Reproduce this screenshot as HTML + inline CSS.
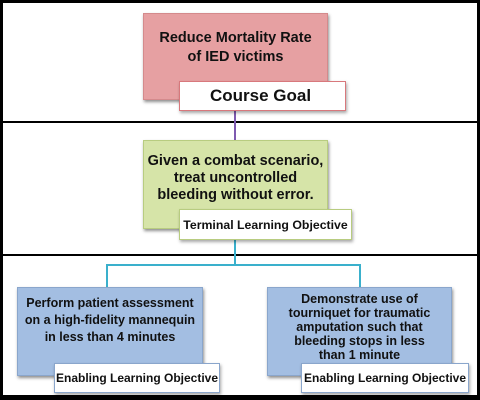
<!DOCTYPE html>
<html><head><style>
body{margin:0;width:480px;height:400px;background:#000;position:relative;overflow:hidden;font-family:"Liberation Sans",sans-serif;font-weight:bold;color:#111}
.band{position:absolute;left:3px;width:474px;background:#fff}
.box{position:absolute;display:flex;align-items:flex-start;justify-content:center;text-align:center;box-shadow:1px 2px 3px rgba(0,0,0,.45)}
.lbl{position:absolute;background:#fff;display:flex;align-items:center;justify-content:center;box-shadow:1px 2px 3px rgba(0,0,0,.35);white-space:nowrap}
.ln{position:absolute}
</style></head><body>
<div class="band" style="top:3px;height:118px"></div>
<div class="band" style="top:123px;height:131px"></div>
<div class="band" style="top:256px;height:139px"></div>

<div class="ln" style="left:234px;top:108px;width:2px;height:34px;background:#7e5ab0"></div>
<div class="ln" style="left:234px;top:238px;width:2px;height:28px;background:#3ab0cc"></div>
<div class="ln" style="left:106px;top:264px;width:255px;height:2px;background:#3ab0cc"></div>
<div class="ln" style="left:106px;top:264px;width:2px;height:24px;background:#3ab0cc"></div>
<div class="ln" style="left:359px;top:264px;width:2px;height:24px;background:#3ab0cc"></div>

<div class="box" style="left:143px;top:13px;width:185px;height:87px;background:#e6a0a2;border:1px solid #d48a8c;font-size:14.5px;line-height:19px;padding-top:15px;box-sizing:border-box">Reduce Mortality Rate<br>of IED victims</div>
<div class="lbl" style="left:179px;top:81px;width:167px;height:30px;border:1px solid #d8787c;box-sizing:border-box;font-size:17px;justify-content:flex-start;padding-left:30px">Course Goal</div>

<div class="box" style="left:143px;top:140px;width:185px;height:89px;background:#d6e4a8;border:1px solid #b8cc80;font-size:14.5px;line-height:17px;padding-top:12px;box-sizing:border-box">Given a combat scenario,<br>treat uncontrolled<br>bleeding without error.</div>
<div class="lbl" style="left:179px;top:209px;width:173px;height:31px;border:1px solid #b8cc80;box-sizing:border-box;font-size:12.3px">Terminal Learning Objective</div>

<div class="box" style="left:17px;top:287px;width:186px;height:89px;background:#a3bee2;border:1px solid #8aa6cc;font-size:12.5px;line-height:17px;padding-top:7px;box-sizing:border-box">Perform patient assessment<br>on a high-fidelity mannequin<br>in less than 4 minutes</div>
<div class="lbl" style="left:54px;top:363px;width:166px;height:30px;border:1px solid #8aa6cc;box-sizing:border-box;font-size:12px">Enabling Learning Objective</div>

<div class="box" style="left:267px;top:287px;width:185px;height:89px;background:#a3bee2;border:1px solid #8aa6cc;font-size:12.5px;line-height:14px;padding-top:4px;box-sizing:border-box">Demonstrate use of<br>tourniquet for traumatic<br>amputation such that<br>bleeding stops in less<br>than 1 minute</div>
<div class="lbl" style="left:301px;top:363px;width:168px;height:30px;border:1px solid #8aa6cc;box-sizing:border-box;font-size:12px">Enabling Learning Objective</div>
</body></html>
